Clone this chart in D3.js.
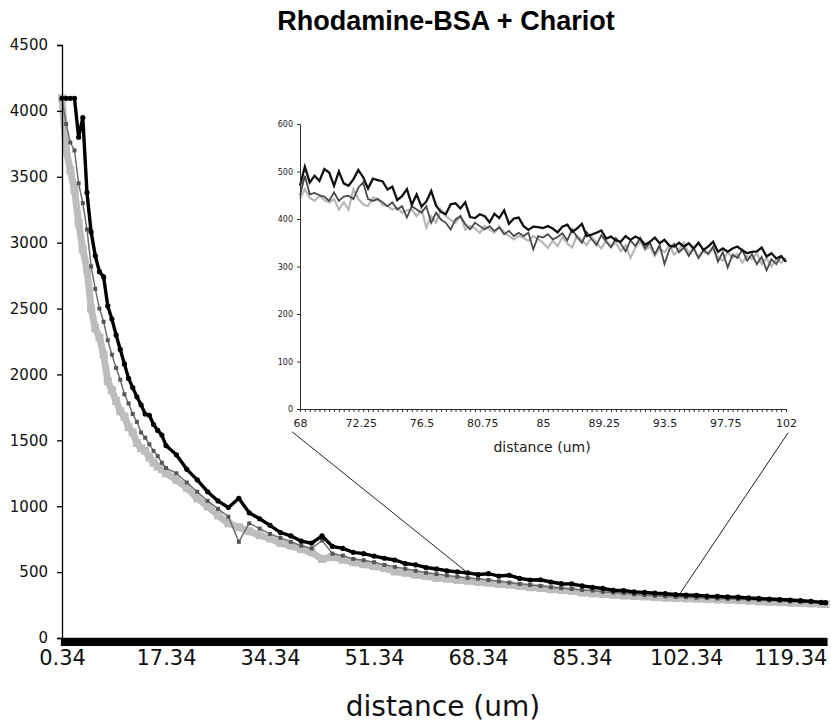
<!DOCTYPE html>
<html>
<head>
<meta charset="utf-8">
<script src="https://d3js.org/d3.v7.min.js"></script>
<style>
  body { margin: 0; background: #fff; }
  svg { display: block; }
</style>
</head>
<body>
<svg id="chart" width="831" height="723"></svg>
<script>
// main profile, distance in um
var distance = [0.34,1.02,1.70,2.38,3.06,3.74,4.42,5.10,5.78,6.46,
    7.14,7.82,8.50,9.18,9.86,10.54,11.22,11.90,12.58,13.26,
    13.94,14.62,15.30,15.98,16.66,17.34,19.04,20.74,22.44,24.14,
    25.84,27.54,29.24,30.94,32.64,34.34,36.04,37.74,39.44,41.14,
    42.84,44.54,46.24,47.94,49.64,51.34,53.04,54.74,56.44,58.14,
    59.84,61.54,63.24,64.94,66.64,68.34,70.04,71.74,73.44,75.14,
    76.84,78.54,80.24,81.94,83.64,85.34,87.04,88.74,90.44,92.14,
    93.84,95.54,97.24,98.94,100.64,102.34,104.04,105.74,107.44,109.14,
    110.84,112.54,114.24,115.94,117.64,119.34,121.04,122.74,124.44,125.12];
var blackRun = [4095,4095,4095,4095,3800,3950,3380,3080,2900,2780,
    2740,2520,2420,2300,2190,2080,1970,1900,1830,1770,
    1700,1690,1620,1575,1540,1460,1390,1280,1200,1110,
    1040,990,1060,950,905,855,800,775,735,720,
    775,695,680,650,640,622,605,592,565,555,
    535,524,510,502,494,482,488,470,476,452,
    440,442,425,412,410,396,385,376,362,360,
    350,346,340,336,330,326,324,318,316,312,
    310,304,300,296,292,288,283,278,270,268];
var darkRun = [4095,3900,3760,3700,3450,3300,3100,2820,2650,2500,
    2400,2260,2150,2050,1960,1850,1780,1700,1640,1560,
    1520,1470,1420,1380,1330,1290,1250,1180,1110,1040,
    980,920,730,870,830,790,760,730,700,680,
    740,640,625,600,590,575,555,540,525,510,
    495,485,475,465,455,450,440,430,420,410,
    402,395,385,378,372,365,360,350,345,340,
    332,325,320,316,312,310,306,303,300,297,
    295,292,288,285,282,278,275,272,268,266];
var lightRun = [4095,3700,3550,3400,3150,2950,2800,2500,2350,2280,
    2150,1950,1880,1800,1720,1680,1600,1560,1480,1440,
    1420,1370,1330,1300,1280,1250,1200,1140,1060,1000,
    930,870,840,810,780,755,720,700,675,650,
    600,615,595,575,560,545,530,505,495,480,
    470,455,450,440,435,425,420,410,405,395,
    385,380,370,365,358,345,338,334,328,322,
    318,315,310,306,304,300,298,295,292,290,
    287,283,278,275,272,268,265,262,258,258];

// zoomed part 68 - 102 um
var insetDistance = [68,68.34,68.68,69.02,69.36,69.7,70.04,70.38,70.72,71.06,
    71.4,71.74,72.08,72.42,72.76,73.1,73.44,73.78,74.12,74.46,
    74.8,75.14,75.48,75.82,76.16,76.5,76.84,77.18,77.52,77.86,
    78.2,78.54,78.88,79.22,79.56,79.9,80.24,80.58,80.92,81.26,
    81.6,81.94,82.28,82.62,82.96,83.3,83.64,83.98,84.32,84.66,
    85,85.34,85.68,86.02,86.36,86.7,87.04,87.38,87.72,88.06,
    88.4,88.74,89.08,89.42,89.76,90.1,90.44,90.78,91.12,91.46,
    91.8,92.14,92.48,92.82,93.16,93.5,93.84,94.18,94.52,94.86,
    95.2,95.54,95.88,96.22,96.56,96.9,97.24,97.58,97.92,98.26,
    98.6,98.94,99.28,99.62,99.96,100.3,100.64,100.98,101.32,101.66,
    102];
var insetBlack = [470,510,477,491,480,505,498,470,500,475,
    470,484,503,488,464,485,482,479,462,468,
    440,448,463,430,452,426,437,459,428,415,
    410,431,433,422,435,404,402,410,406,393,
    411,402,418,390,401,403,385,377,384,383,
    381,385,380,372,384,388,373,380,390,364,
    367,371,376,359,363,355,352,364,356,363,
    358,346,352,361,349,356,344,342,350,342,
    349,338,350,335,342,352,331,338,331,338,
    342,334,328,331,332,340,321,328,317,322,
    310];
var insetDark = [449,491,452,455,450,447,438,456,438,447,
    449,442,466,477,442,438,442,435,427,435,
    420,427,403,427,420,413,427,392,413,399,
    392,378,399,406,389,378,392,385,378,385,
    375,382,368,375,364,371,364,371,336,364,
    361,368,357,362,370,355,378,362,350,372,
    358,345,366,352,340,360,348,332,355,343,
    360,338,350,326,345,305,336,348,330,340,
    322,338,318,335,327,342,310,330,298,325,
    318,335,312,326,305,320,292,315,305,322,
    310];
var insetLight = [442,463,445,438,449,440,435,442,420,435,
    420,463,442,431,427,445,442,430,427,420,
    424,413,418,420,406,420,382,406,392,420,
    406,398,392,406,378,385,380,371,385,378,
    371,385,372,364,357,364,360,354,364,358,
    350,339,354,343,362,348,340,365,355,345,
    362,350,338,355,342,350,332,345,318,340,
    352,335,342,322,338,330,345,325,336,350,
    328,340,318,332,325,338,320,312,330,318,
    326,308,322,315,328,305,318,300,316,308,
    318];

var yTicks = [0,500,1000,1500,2000,2500,3000,3500,4000,4500];
var xTickLabels = [0.34,17.34,34.34,51.34,68.34,85.34,102.34,119.34];
var insetYTicks = [0,100,200,300,400,500,600];
var insetXTickLabels = [68,72.25,76.5,80.75,85,89.25,93.5,97.75,102];

var svg = d3.select('#chart');
var font = 'DejaVu Sans, Verdana, sans-serif';

// ---- main chart
var x = d3.scaleLinear().domain([0.34, 125.12]).range([62, 825.5]);
var y = d3.scaleLinear().domain([0, 4500]).range([638, 45]);

svg.append('text')
    .attr('x', 446).attr('y', 30)
    .attr('text-anchor', 'middle')
    .attr('font-family', 'Liberation Sans, Arial, Helvetica, sans-serif')
    .attr('font-weight', 'bold')
    .attr('font-size', 27)
    .text('Rhodamine-BSA + Chariot');

function rows(xs, ys) { return xs.map((d, i) => ({d: d, v: ys[i]})); }

var line = d3.line().x(d => x(d.d)).y(d => y(d.v));

// light gray run (thick with squares)
var light = rows(distance, lightRun);
svg.append('path').datum(light)
    .attr('fill', 'none').attr('stroke', '#bdbdbd').attr('stroke-width', 7)
    .attr('stroke-linejoin', 'round')
    .attr('d', line);
svg.append('g').selectAll('rect').data(light).join('rect')
    .attr('x', d => x(d.d) - 4).attr('y', d => y(d.v) - 4)
    .attr('width', 8).attr('height', 8).attr('fill', '#bdbdbd');

// dark gray run
var dark = rows(distance, darkRun);
svg.append('path').datum(dark)
    .attr('fill', 'none').attr('stroke', '#6e6e6e').attr('stroke-width', 1.5)
    .attr('d', line);
svg.append('g').selectAll('rect').data(dark).join('rect')
    .attr('x', d => x(d.d) - 2).attr('y', d => y(d.v) - 2)
    .attr('width', 4).attr('height', 4).attr('fill', '#555');

// black run with dots
var black = rows(distance, blackRun);
svg.append('path').datum(black)
    .attr('fill', 'none').attr('stroke', '#000').attr('stroke-width', 3.4)
    .attr('d', line);
svg.append('g').selectAll('circle').data(black).join('circle')
    .attr('cx', d => x(d.d)).attr('cy', d => y(d.v))
    .attr('r', 2.6).attr('fill', '#000');

// y axis
svg.append('g')
    .attr('transform', 'translate(62,0)')
    .call(d3.axisLeft(y).tickValues(yTicks).tickSize(5).tickPadding(9).tickFormat(d3.format('d')))
    .call(g => g.select('.domain').attr('stroke', '#000').attr('stroke-width', 1.3))
    .call(g => g.selectAll('.tick line').attr('stroke', '#000').attr('stroke-width', 1.3))
    .call(g => g.selectAll('text').attr('font-family', font).attr('font-size', 15).attr('fill', '#111'));

// x axis: one tick per sample gives the solid bar
var sampleTicks = d3.range(0, 368).map(i => 0.34 + i * 0.34);
svg.append('g')
    .attr('transform', 'translate(0,638)')
    .call(d3.axisBottom(x).tickValues(sampleTicks).tickSize(8).tickFormat('').tickSizeOuter(0))
    .call(g => g.select('.domain').attr('stroke', '#000').attr('stroke-width', 1.5))
    .call(g => g.selectAll('.tick line').attr('stroke', '#000').attr('stroke-width', 3.2));
svg.append('g')
    .attr('transform', 'translate(0,638)')
    .call(d3.axisBottom(x).tickValues(xTickLabels).tickSize(0).tickPadding(12).tickFormat(d3.format('.2f')))
    .call(g => g.select('.domain').remove())
    .call(g => g.selectAll('text').attr('font-family', font).attr('font-size', 21).attr('fill', '#111'));

svg.append('text')
    .attr('x', 443).attr('y', 716)
    .attr('text-anchor', 'middle')
    .attr('font-family', font).attr('font-size', 28).attr('fill', '#111')
    .text('distance (um)');

// ---- inset
var ix = d3.scaleLinear().domain([68, 102]).range([300, 786]);
var iy = d3.scaleLinear().domain([0, 600]).range([409, 124]);
var iline = d3.line().x(d => ix(d.d)).y(d => iy(d.v));

svg.append('path').datum(rows(insetDistance, insetLight))
    .attr('fill', 'none').attr('stroke', '#b8b8b8').attr('stroke-width', 2.2)
    .attr('d', iline);
svg.append('path').datum(rows(insetDistance, insetDark))
    .attr('fill', 'none').attr('stroke', '#4a4a4a').attr('stroke-width', 1.8)
    .attr('d', iline);
svg.append('path').datum(rows(insetDistance, insetBlack))
    .attr('fill', 'none').attr('stroke', '#111').attr('stroke-width', 2.3)
    .attr('d', iline);

svg.append('g')
    .attr('transform', 'translate(300,0)')
    .call(d3.axisLeft(iy).tickValues(insetYTicks).tickSize(3).tickPadding(4))
    .call(g => g.select('.domain').attr('stroke', '#333'))
    .call(g => g.selectAll('.tick line').attr('stroke', '#333'))
    .call(g => g.selectAll('text').attr('font-family', font).attr('font-size', 8).attr('fill', '#222'));

svg.append('g')
    .attr('transform', 'translate(0,409)')
    .call(d3.axisBottom(ix).tickValues(insetDistance).tickSize(3).tickFormat('').tickSizeOuter(0))
    .call(g => g.select('.domain').attr('stroke', '#333'))
    .call(g => g.selectAll('.tick line').attr('stroke', '#333'));
svg.append('g')
    .attr('transform', 'translate(0,409)')
    .call(d3.axisBottom(ix).tickValues(insetXTickLabels).tickSize(0).tickPadding(10).tickFormat(d => String(d)))
    .call(g => g.select('.domain').remove())
    .call(g => g.selectAll('text').attr('font-family', font).attr('font-size', 11).attr('fill', '#222'));

svg.append('text')
    .attr('x', 542).attr('y', 452)
    .attr('text-anchor', 'middle')
    .attr('font-family', font).attr('font-size', 14).attr('fill', '#222')
    .text('distance (um)');

// lines tying the inset to the stretch of profile it shows
var connectors = [
    {from: {d: 67.45, v: -48}, to: {d: 66.5, v: 500}},
    {from: {d: 102.15, v: -50}, to: {d: 101.3, v: 335}}
];
svg.append('g').selectAll('line').data(connectors).join('line')
    .attr('x1', c => ix(c.from.d)).attr('y1', c => iy(c.from.v))
    .attr('x2', c => x(c.to.d)).attr('y2', c => y(c.to.v))
    .attr('stroke', '#222').attr('stroke-width', 1);
</script>
</body>
</html>
